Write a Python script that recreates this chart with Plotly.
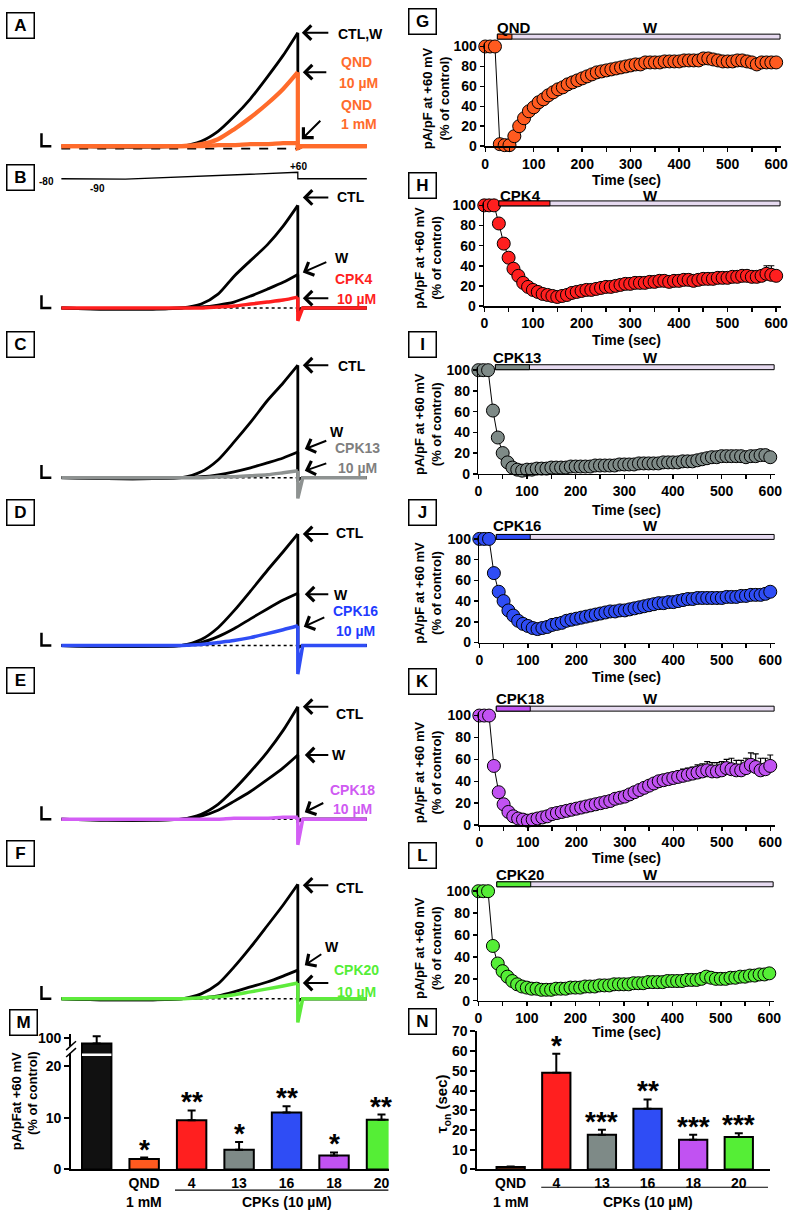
import plotly.graph_objects as go

W, H = 796, 1214
FONT = "Liberation Sans, Arial, Helvetica, sans-serif"


def fx(x):
    return x / W


def fy(y):
    return 1 - y / H


# ---------------- DATA ----------------
# Panels A-F: current traces sampled along the ramp protocol (arbitrary time units)
trace_t = [0, 150, 300, 394, 458, 513, 565, 619, 674, 726, 774, 774, 790, 1000]
a_ctl = [0, -1, -1, 0, 5, 15, 30, 48, 70, 92, 115, -3, 0, 0]
a_qnd10 = [0, 0, 0, 0, 2, 7, 17, 29, 43, 58, 75, -2, 0, 0]
a_qnd1 = [0, 0, 0, 0, 0, 1, 1, 2, 2, 3, 3, 0, 0, 0]
b_ctl = [0, -1, -1, 0, 4, 14, 32, 48, 64, 83, 104, -2, 0, 0]
b_w = [0, -1, -1, 0, 1, 3, 6, 12, 19, 26, 34, -2, 0, 0]
b_cpk4 = [0, 0, 0, 0, 0, 1, 2, 4, 6, 8, 11, -13, 0, 0]
c_ctl = [0, -1, -1, 0, 6, 18, 36, 56, 78, 96, 114, -2, 0, 0]
c_w = [0, -1, -1, 0, 1, 3, 6, 10, 15, 20, 26, -2, 0, 0]
c_cpk13 = [0, 0, 0, 0, 0, 1, 1, 2, 3, 5, 7, -21, 0, 0]
d_ctl = [0, -1, -1, 0, 6, 18, 35, 55, 76, 95, 113, -2, 0, 0]
d_w = [0, -1, -1, 0, 3, 9, 17, 27, 37, 46, 53, -2, 0, 0]
d_cpk16 = [0, 0, 0, 0, 1, 3, 5, 8, 12, 16, 20, -29, 0, 0]
e_ctl = [0, -1, -1, 0, 5, 15, 30, 48, 68, 90, 114, -2, 0, 0]
e_w = [0, -1, -1, 0, 3, 9, 18, 28, 40, 52, 65, -2, 0, 0]
e_cpk18 = [0, 0, 0, 0, 0, 0, 1, 1, 1, 2, 2, -26, 0, 0]
f_ctl = [0, -1, -1, 0, 5, 15, 32, 52, 74, 95, 116, -2, 0, 0]
f_w = [0, -1, -1, 0, 1, 3, 7, 12, 17, 23, 29, -2, 0, 0]
f_cpk20 = [0, 0, 0, 0, 1, 2, 4, 7, 10, 13, 16, -24, 0, 0]

proto_t = [0, 60, 60, 210, 774, 774, 1000]
proto_mv = [-80, -80, -90, -90, 60, -80, -80]

# Panels G-L: time courses (% of control)
time_s = list(range(0, 601, 10))
g_qnd = [100, 100, 100, 2, 1, 1, 10, 20, 28, 35,
         39, 44, 47, 51, 54, 57, 59, 62, 64, 66,
         68, 70, 72, 74, 75, 76, 77, 78, 79, 80,
         81, 82, 82, 84, 84, 84, 84, 85, 85, 85,
         85, 86, 86, 86, 86, 88, 88, 87, 86, 85,
         85, 85, 86, 86, 85, 84, 82, 84, 84, 84,
         84]
h_cpk4 = [100, 100, 100, 82, 62, 48, 37, 30, 23, 19,
          16, 14, 12, 11, 10, 9, 10, 11, 13, 14,
          15, 16, 16, 17, 18, 19, 19, 20, 21, 22,
          22, 23, 23, 23, 24, 24, 25, 25, 24, 25,
          25, 26, 26, 25, 26, 27, 27, 27, 28, 28,
          28, 29, 29, 30, 30, 29, 29, 30, 32, 31,
          30]
h_err = [0, 0, 0, 3, 3, 3, 3, 2, 2, 2,
         2, 2, 2, 2, 2, 2, 2, 2, 2, 2,
         2, 2, 2, 2, 2, 2, 2, 2, 2, 2,
         2, 2, 2, 2, 2, 2, 2, 2, 2, 2,
         2, 2, 2, 2, 2, 2, 2, 2, 2, 2,
         2, 3, 3, 3, 3, 3, 4, 5, 8, 9,
         4]
i_cpk13 = [100, 100, 100, 61, 35, 20, 11, 6, 4, 3,
           4, 4, 5, 5, 5, 6, 6, 6, 6, 7,
           7, 7, 7, 7, 8, 8, 8, 8, 8, 9,
           9, 9, 9, 10, 10, 10, 10, 10, 11, 11,
           11, 11, 12, 12, 12, 13, 14, 15, 16, 16,
           17, 17, 17, 17, 17, 16, 17, 17, 18, 18,
           16]
j_cpk16 = [100, 100, 100, 67, 49, 40, 31, 26, 21, 18,
           16, 14, 13, 14, 15, 17, 18, 19, 21, 22,
           23, 24, 25, 26, 27, 28, 29, 30, 30, 31,
           31, 32, 33, 34, 35, 36, 37, 38, 38, 39,
           39, 40, 41, 42, 42, 43, 43, 43, 43, 43,
           43, 44, 44, 44, 45, 45, 46, 46, 46, 47,
           49]
k_cpk18 = [100, 100, 100, 54, 30, 19, 12, 8, 6, 5,
           4, 5, 6, 7, 8, 10, 11, 12, 13, 14,
           15, 16, 17, 18, 19, 20, 21, 22, 24, 25,
           26, 28, 30, 32, 34, 36, 38, 40, 41, 42,
           43, 44, 45, 46, 47, 48, 49, 50, 49, 49,
           50, 52, 51, 50, 50, 52, 55, 53, 50, 51,
           54]
k_err = [0, 0, 0, 4, 4, 3, 2, 2, 2, 2,
         2, 2, 2, 2, 2, 2, 2, 2, 2, 2,
         2, 2, 2, 3, 3, 3, 3, 3, 3, 3,
         3, 3, 3, 3, 4, 4, 4, 4, 5, 5,
         5, 5, 6, 6, 6, 7, 7, 8, 8, 8,
         8, 8, 10, 9, 9, 9, 11, 12, 11, 10,
         10]
l_cpk20 = [100, 100, 100, 50, 34, 27, 22, 18, 15, 13,
           12, 11, 11, 10, 10, 10, 11, 11, 11, 12,
           12, 12, 13, 13, 13, 14, 14, 14, 15, 15,
           15, 15, 16, 16, 16, 17, 17, 17, 17, 18,
           18, 18, 18, 19, 19, 19, 20, 22, 21, 20,
           20, 20, 21, 21, 22, 22, 23, 23, 24, 24,
           25]
drug_names = ["QND", "CPK4", "CPK13", "CPK16", "CPK18", "CPK20"]
drug_on = [25, 30, 35, 35, 35, 38]
drug_off = [55, 135, 105, 105, 105, 108]
wash_end = 608

# Panel M: current at +60 mV (% of control)
m_labels = ["", "QND", "4", "13", "16", "18", "20"]
m_values = [100, 2.0, 9.5, 3.8, 11.0, 2.7, 9.6]
m_err = [9, 0.3, 1.9, 1.5, 1.2, 0.6, 1.0]
m_stars = ["", "*", "**", "*", "**", "*", "**"]

# Panel N: tau_on (sec)
n_labels = ["QND", "4", "13", "16", "18", "20"]
n_values = [1.3, 49, 17.6, 30.8, 15.1, 16.4]
n_err = [0.2, 9.7, 2.5, 4.7, 2.5, 2.0]
n_stars = ["", "*", "***", "**", "***", "***"]

# ---------------- COLOURS ----------------
QND_TRACE = "#FF6B2B"
QND_MARK = "#FF5A1F"
RED = "#FF1F1F"
GRAY_TRACE = "#8E9291"
GRAY = "#7E8A87"
BLUE = "#2F4DF5"
PURPLE_TRACE = "#D35EF5"
PURPLE = "#C152F2"
GREEN_TRACE = "#5EEB3C"
GREEN = "#55EE36"
BROWN = "#8B3A1A"
LAV = "#E6DAF0"

fig = go.Figure()
layout = dict(
    width=W, height=H, margin=dict(l=0, r=0, t=0, b=0),
    paper_bgcolor="white", plot_bgcolor="rgba(0,0,0,0)",
    showlegend=False, font=dict(family=FONT, size=14, color="black"),
)
annotations = []
shapes = []


def keys(i):
    s = "" if i == 1 else str(i)
    return "xaxis" + s, "yaxis" + s, "x" + s, "y" + s


hidden = dict(visible=False, showgrid=False, zeroline=False, fixedrange=True)
BOLD = dict(family=FONT, size=14, color="black", weight="bold")


def label(text, x, y, color="black", size=14, **kw):
    annotations.append(dict(text=text, x=fx(x), y=fy(y), xref="paper", yref="paper",
                            showarrow=False, xanchor="center", yanchor="middle",
                            font=dict(family=FONT, size=size, color=color, weight="bold"), **kw))


def arrow(tip, tail):
    annotations.append(dict(text="", x=fx(tip[0]), y=fy(tip[1]), xref="paper", yref="paper",
                            ax=tail[0] - tip[0], ay=tail[1] - tip[1], showarrow=True,
                            arrowhead=4, arrowsize=1.4, arrowwidth=2, arrowcolor="black"))


def letter_box(text, x, y):
    annotations.append(dict(text=text, x=fx(x), y=fy(y), xref="paper", yref="paper",
                            showarrow=False, xanchor="center", yanchor="middle",
                            width=22, height=20, bgcolor="white", bordercolor="black",
                            borderwidth=1.5, borderpad=2,
                            font=dict(family=FONT, size=17, color="black", weight="bold")))


def scale_L(x, y):
    shapes.append(dict(type="path", xref="paper", yref="paper",
                       path=f"M {fx(x)},{fy(y - 13)} L {fx(x)},{fy(y)} L {fx(x + 10)},{fy(y)}",
                       line=dict(color="black", width=2.5)))


# ---------------- A-F traces ----------------
left_dom = [fx(58), fx(368)]
trace_panels = [
    (1, 140, [(a_ctl, "black", 2.8), (a_qnd10, QND_TRACE, 4.2), (a_qnd1, QND_TRACE, 4.2)]),
    (3, 304, [(b_ctl, "black", 2.8), (b_w, "black", 2.8), (b_cpk4, RED, 3.5)]),
    (4, 476, [(c_ctl, "black", 2.8), (c_w, "black", 2.8), (c_cpk13, GRAY_TRACE, 3.5)]),
    (5, 646, [(d_ctl, "black", 2.8), (d_w, "black", 2.8), (d_cpk16, BLUE, 3.5)]),
    (6, 822, [(e_ctl, "black", 2.8), (e_w, "black", 2.8), (e_cpk18, PURPLE_TRACE, 3.5)]),
    (7, 1004, [(f_ctl, "black", 2.8), (f_w, "black", 2.8), (f_cpk20, GREEN_TRACE, 3.5)]),
]
PEAK = 11  # ramp part (smooth) ends at the step to -80 mV
for idx, base, series in trace_panels:
    xk, yk, xr, yr = keys(idx)
    layout[xk] = dict(hidden, domain=left_dom, range=[0, 1000], anchor=yr)
    layout[yk] = dict(hidden, domain=[fy(base + 35), fy(base - 125)], range=[-35, 125], anchor=xr)
    if idx == 1:
        fig.add_trace(go.Scatter(x=[0, 774], y=[-2.5, -2.5], mode="lines",
                                 line=dict(color="black", width=1.8, dash="dash"),
                                 xaxis=xr, yaxis=yr, hoverinfo="skip"))
    else:
        fig.add_trace(go.Scatter(x=[394, 774], y=[0, 0], mode="lines",
                                 line=dict(color="black", width=1.6, dash="dot"),
                                 xaxis=xr, yaxis=yr, hoverinfo="skip"))
    for vals, col, wd in series:
        fig.add_trace(go.Scatter(x=trace_t[:PEAK], y=vals[:PEAK], mode="lines",
                                 line=dict(color=col, width=wd, shape="spline", smoothing=0.7),
                                 xaxis=xr, yaxis=yr, hoverinfo="skip"))
        fig.add_trace(go.Scatter(x=trace_t[PEAK - 1:], y=vals[PEAK - 1:], mode="lines",
                                 line=dict(color=col, width=wd),
                                 xaxis=xr, yaxis=yr, hoverinfo="skip"))
    scale_L(38, base)

# voltage protocol (B)
xk, yk, xr, yr = keys(2)
layout[xk] = dict(hidden, domain=left_dom, range=[0, 1000], anchor=yr)
layout[yk] = dict(hidden, domain=[fy(176.3), fy(162.3)], range=[-150, 150], anchor=xr)
fig.add_trace(go.Scatter(x=proto_t, y=proto_mv, mode="lines", line=dict(color="black", width=1.3),
                         xaxis=xr, yaxis=yr, hoverinfo="skip"))
label("-80", 43, 176, size=10)
label("-90", 95, 183, size=10)
label("+60", 299, 161, size=10)

# labels & arrows A-F
arrow((302, 25), (330, 25)); label("CTL,W", 361, 26)
arrow((303, 65), (328, 65))
label("QND", 357, 55, QND_TRACE); label("10 µM", 359, 76, QND_TRACE)
label("QND", 357, 98, QND_TRACE); label("1 mM", 360, 118, QND_TRACE)
arrow((302, 133), (322, 113))

arrow((303, 192), (330, 192)); label("CTL", 352, 192)
arrow((303, 268), (328, 257)); label("W", 343, 253)
label("CPK4", 355, 275, RED); label("10 µM", 357, 295, RED)
arrow((303, 294), (330, 294))

arrow((303, 362), (330, 362)); label("CTL", 353, 363)
arrow((305, 447), (328, 438)); label("W", 338, 430)
label("CPK13", 358, 446, "#7F7F7F"); label("10 µM", 358, 466, "#7F7F7F")
arrow((305, 469), (328, 461))

arrow((303, 533), (330, 533)); label("CTL", 351, 532)
arrow((305, 594), (330, 594)); label("W", 342, 595)
label("CPK16", 356, 611, "#1F3BFF"); label("10 µM", 356, 631, "#1F3BFF")
arrow((304, 627), (326, 617))

arrow((303, 708), (330, 708)); label("CTL", 351, 715)
arrow((305, 757), (330, 757)); label("W", 340, 757)
label("CPK18", 353, 792, "#CF5AF2"); label("10 µM", 353, 812, "#CF5AF2")
arrow((305, 815), (325, 805))

arrow((303, 889), (330, 889)); label("CTL", 351, 892)
arrow((305, 970), (323, 958)); label("W", 333, 952)
label("CPK20", 357, 975, "#55EE36"); label("10 µM", 357, 997, "#55EE36")
arrow((303, 988), (330, 988))

for t, x, y in [("A", 17, 18), ("B", 17, 172), ("C", 17, 341), ("D", 17, 511),
                ("E", 17, 681), ("F", 17, 857), ("M", 20, 1028),
                ("G", 424, 14), ("H", 424, 180), ("I", 424, 341), ("J", 424, 511),
                ("K", 424, 682), ("L", 424, 859), ("N", 424, 1027)]:
    letter_box(t, x, y)

# ---------------- G-L time courses ----------------
time_panels = [
    (8, g_qnd, None, QND_MARK, 488, 783, 140, 39, 29, 438, 517, 20, 174),
    (9, h_cpk4, h_err, RED, 487, 783, 302, 200, 198, 430, 524, 190, 336),
    (10, i_cpk13, None, GRAY, 481, 777, 472, 367, 364, 430, 520, 354, 509),
    (11, j_cpk16, None, BLUE, 482, 777, 643, 538, 536, 430, 520, 524, 678),
    (12, k_cpk18, k_err, PURPLE, 482, 777, 828, 717, 710, 430, 523, 700, 861),
    (13, l_cpk20, None, GREEN, 481, 776, 1006, 895, 888, 430, 523, 878, 1038),
]
axis_line = dict(showline=True, linecolor="black", linewidth=1.6, showgrid=False, zeroline=False,
                 ticks="outside", ticklen=4, tickwidth=1.5, tickcolor="black",
                 tickfont=BOLD, fixedrange=True)
for k, (idx, vals, err, col, x0, x600, y0, y100, bar_y, ytx, dlx, dly, tly) in enumerate(time_panels):
    xk, yk, xr, yr = keys(idx)
    sx = (x600 - x0) / 600
    sy = (y0 - y100) / 100
    layout[xk] = dict(axis_line, domain=[fx(x0), fx(x0 + 610 * sx)], range=[0, 610], anchor=yr,
                      tick0=0, dtick=100,
                      minor=dict(tick0=0, dtick=50, ticks="outside", ticklen=4, tickwidth=1.5,
                                 tickcolor="black", showgrid=False))
    layout[yk] = dict(axis_line, domain=[fy(y0), fy(y0 - 103 * sy)], range=[0, 103], anchor=xr,
                      tickvals=[0, 20, 40, 60, 80, 100])
    sc = dict(x=time_s, y=vals, mode="lines+markers", line=dict(color="black", width=1),
              marker=dict(size=13, color=col, line=dict(color="black", width=1)),
              cliponaxis=False, xaxis=xr, yaxis=yr, hoverinfo="skip")
    if err is not None:
        sc["error_y"] = dict(type="data", symmetric=False, array=err, arrayminus=[0] * len(err),
                             color="black", thickness=1.2, width=3)
    fig.add_trace(go.Scatter(**sc))
    # treatment bar: drug then washout
    shapes.append(dict(type="rect", xref=xr, yref="paper", x0=drug_on[k], x1=wash_end,
                       y0=fy(bar_y + 2.5), y1=fy(bar_y - 2.5), fillcolor=LAV,
                       line=dict(color="black", width=1)))
    shapes.append(dict(type="rect", xref=xr, yref="paper", x0=drug_on[k], x1=drug_off[k],
                       y0=fy(bar_y + 2.5), y1=fy(bar_y - 2.5), fillcolor=col,
                       line=dict(color="black", width=1)))
    label(drug_names[k], dlx, dly, size=15)
    label("W", 656, dly, size=15)
    label("Time (sec)", 631, tly, size=14)
    label("pA/pF at +60 mV<br>(% of control)", ytx, (y0 + y100) / 2 + 2, size=13, textangle=-90)

# ---------------- M bar chart ----------------
def m_disp(v):
    return v if v <= 20 else 24.3 + (v - 100) * 0.16


m_colors = ["#111111", QND_MARK, RED, GRAY, BLUE, PURPLE, GREEN]
m_pos = list(range(len(m_labels)))
m_y = [m_disp(v) for v in m_values]
m_top = [m_disp(v + e) for v, e in zip(m_values, m_err)]
fig.add_trace(go.Bar(x=m_pos, y=m_y, width=0.62,
                     marker=dict(color=m_colors, line=dict(color="black", width=2)),
                     error_y=dict(type="data", symmetric=False, array=[t - y for t, y in zip(m_top, m_y)],
                                  arrayminus=[0] * len(m_y), color="black", thickness=2, width=4),
                     xaxis="x14", yaxis="y14", hoverinfo="skip"))
layout["xaxis14"] = dict(showline=True, linecolor="black", linewidth=2, showgrid=False, zeroline=False,
                         domain=[fx(68), fx(390)], range=[-0.54, 6.15], anchor="y14",
                         tickvals=m_pos[1:], ticktext=m_labels[1:], ticks="", tickfont=BOLD,
                         fixedrange=True)
layout["yaxis14"] = dict(showline=True, linecolor="black", linewidth=2, showgrid=False, zeroline=False,
                         domain=[fy(1177), fy(1040)], range=[0, 26.1], anchor="x14",
                         tickvals=[0, 10, 20, 25.4], ticktext=["0", "10", "20", "100"],
                         ticks="outside", ticklen=5, tickwidth=2, tickcolor="black",
                         tickfont=BOLD, fixedrange=True)
for i, (s, t) in enumerate(zip(m_stars, m_top)):
    if s:
        annotations.append(dict(text=s, x=i, y=t, xref="x14", yref="y14", showarrow=False,
                                xanchor="center", yanchor="bottom", yshift=-9,
                                font=dict(family=FONT, size=28, color="black", weight="bold")))
# axis break
shapes.append(dict(type="rect", xref="x14", yref="y14", x0=-0.31, x1=0.31, y0=21.9, y1=22.4,
                   fillcolor="white", line=dict(width=0)))
shapes.append(dict(type="rect", xref="paper", yref="paper", x0=fx(65), x1=fx(71),
                   y0=fy(1059), y1=fy(1052), fillcolor="white", line=dict(width=0)))
shapes.append(dict(type="line", xref="paper", yref="paper", x0=fx(63), y0=fy(1056), x1=fx(73), y1=fy(1047),
                   line=dict(color="black", width=1.5)))
shapes.append(dict(type="line", xref="paper", yref="paper", x0=fx(63), y0=fy(1063), x1=fx(73), y1=fy(1054),
                   line=dict(color="black", width=1.5)))
shapes.append(dict(type="line", xref="x14", yref="paper", x0=1.65, x1=6.15, y0=fy(1198), y1=fy(1198),
                   line=dict(color="black", width=1.2)))
annotations.append(dict(text="1 mM", x=1, y=fy(1210), xref="x14", yref="paper", showarrow=False,
                        font=BOLD, yanchor="middle"))
annotations.append(dict(text="CPKs (10 µM)", x=4, y=fy(1210), xref="x14", yref="paper", showarrow=False,
                        font=BOLD, yanchor="middle"))
label("pA/pFat +60 mV", 13, 1108, size=13, textangle=-90)
label("(% of control)", 29, 1100, size=13, textangle=-90)

# ---------------- N bar chart ----------------
n_colors = [BROWN, RED, GRAY, BLUE, PURPLE, GREEN]
n_pos = list(range(len(n_labels)))
fig.add_trace(go.Bar(x=n_pos, y=n_values, width=0.62,
                     marker=dict(color=n_colors, line=dict(color="black", width=2)),
                     error_y=dict(type="data", symmetric=False, array=n_err, arrayminus=[0] * len(n_err),
                                  color="black", thickness=2, width=4),
                     xaxis="x15", yaxis="y15", hoverinfo="skip"))
layout["xaxis15"] = dict(showline=True, linecolor="black", linewidth=2, showgrid=False, zeroline=False,
                         domain=[fx(480), fx(777)], range=[-0.73, 5.69], anchor="y15",
                         tickvals=n_pos, ticktext=n_labels, ticks="", tickfont=BOLD, fixedrange=True)
layout["yaxis15"] = dict(showline=True, linecolor="black", linewidth=2, showgrid=False, zeroline=False,
                         domain=[fy(1177), fy(1037)], range=[0, 70], anchor="x15", dtick=10,
                         ticks="outside", ticklen=5, tickwidth=2, tickcolor="black",
                         tickfont=BOLD, fixedrange=True)
for i, (s, v, e) in enumerate(zip(n_stars, n_values, n_err)):
    if s:
        annotations.append(dict(text=s, x=i, y=v + e, xref="x15", yref="y15", showarrow=False,
                                xanchor="center", yanchor="bottom", yshift=-9,
                                font=dict(family=FONT, size=28, color="black", weight="bold")))
shapes.append(dict(type="line", xref="x15", yref="paper", x0=0.67, x1=5.64, y0=fy(1195), y1=fy(1195),
                   line=dict(color="black", width=1.2)))
annotations.append(dict(text="1 mM", x=0, y=fy(1210), xref="x15", yref="paper", showarrow=False,
                        font=BOLD, yanchor="middle"))
annotations.append(dict(text="CPKs (10 µM)", x=3, y=fy(1210), xref="x15", yref="paper", showarrow=False,
                        font=BOLD, yanchor="middle"))
label("τ<sub>on</sub> (sec)", 445, 1110, size=15, textangle=-90)

layout["annotations"] = annotations
layout["shapes"] = shapes
fig.update_layout(**layout)

fig.write_html("out.html", config={"displayModeBar": False, "staticPlot": True},
               post_script="document.body.style.margin='0';document.body.style.overflow='hidden';")
